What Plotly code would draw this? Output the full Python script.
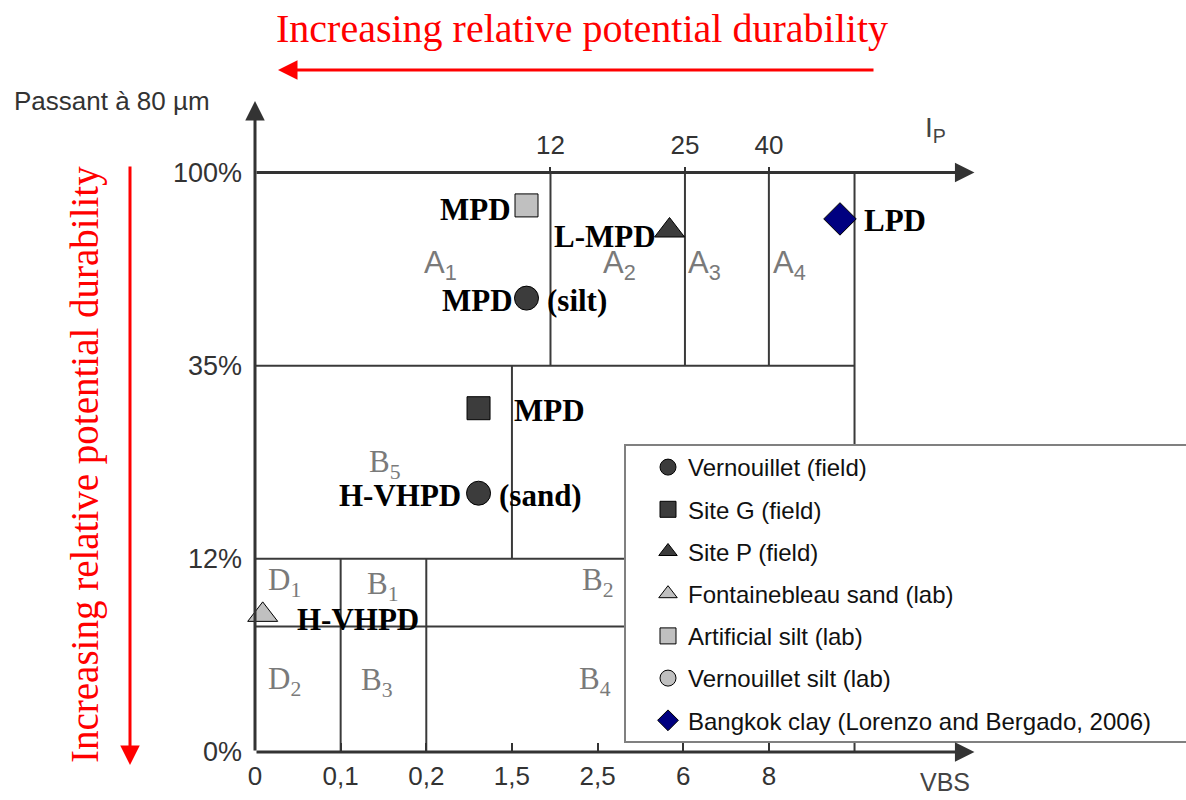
import plotly.graph_objects as go

# ---------------- data (schematic GTR chart, index coordinates) ----------------
vbs_labels = ["0", "0,1", "0,2", "1,5", "2,5", "6", "8"]
vbs_index = [0, 1, 2, 3, 4, 5, 6]
fines_labels = ["0%", "12%", "35%", "100%"]
fines_index = [0, 1, 2, 3]
ip_labels = ["12", "25", "40"]
ip_index = [3.45, 5.02, 6.0]

series_names = [
    "Vernouillet (field)",
    "Site G (field)",
    "Site P (field)",
    "Fontainebleau sand (lab)",
    "Artificial silt (lab)",
    "Vernouillet silt (lab)",
    "Bangkok clay (Lorenzo and Bergado, 2006)",
]
vern_field_x = [2.61, 3.17]
vern_field_y = [1.34, 2.35]
site_g_x = [2.61]
site_g_y = [1.78]
site_p_x = [4.84]
site_p_y = [2.70]
fontainebleau_x = [0.09]
fontainebleau_y = [0.71]
art_silt_x = [3.17]
art_silt_y = [2.83]
vern_silt_x = []
vern_silt_y = []
bangkok_x = [6.83]
bangkok_y = [2.76]

# point labels: (series index, point index, text, side)
point_labels = [
    (0, 0, "H-VHPD", "left"), (0, 0, "(sand)", "right"),
    (0, 1, "MPD", "left"), (0, 1, "(silt)", "right"),
    (1, 0, "MPD", "right"),
    (2, 0, "L-MPD", "left"),
    (3, 0, "H-VHPD", "right"),
    (4, 0, "MPD", "left"),
    (6, 0, "LPD", "right"),
]
label_gaps = [16, 18, 12, 18, 33, 12, 32, 14, 22]
label_dy = [-2, -2, -2, -2, -2, -6, -5, -4, -2]

# zone boundaries (index coordinates)
h_segments = [(2, 0, 7), (1, 0, 7), (0.65, 0, 7)]
v_segments = [(3.45, 2, 3), (5.02, 2, 3), (6.0, 2, 3), (7, 0, 3), (3, 1, 2), (1, 0, 1), (2, 0, 1)]
zone_names = ["A<sub>1</sub>", "A<sub>2</sub>", "A<sub>3</sub>", "A<sub>4</sub>", "B<sub>5</sub>",
              "D<sub>1</sub>", "B<sub>1</sub>", "B<sub>2</sub>", "D<sub>2</sub>", "B<sub>3</sub>", "B<sub>4</sub>"]
zone_pos = [(2.16, 2.52), (4.26, 2.52), (5.25, 2.52), (6.24, 2.52), (1.52, 1.49),
            (0.35, 0.88), (1.50, 0.86), (4.0, 0.88), (0.35, 0.37), (1.43, 0.36), (3.97, 0.37)]

# ---------------- figure ----------------
W, H = 1186, 800
L, R, T, B = 255, 203, 76, 48
PW, PH = W - L - R, H - T - B


def paper(px, py):
    return (px - L) / PW, (H - B - py) / PH


DARK = "#3c3c3c"
LIGHT = "#c0c0c0"
NAVY = "#000080"
LINE = "#3a3a3a"
SANS = "Arial, Liberation Sans, sans-serif"
SERIF = "Liberation Serif, Times New Roman, serif"
NARROW = "Liberation Sans Narrow, Arial Narrow, Arial, sans-serif"

fig = go.Figure()

series = [
    (vern_field_x, vern_field_y, "circle", DARK, 24),
    (site_g_x, site_g_y, "square", DARK, 23),
    (site_p_x, site_p_y, "triangle-up", DARK, 26),
    (fontainebleau_x, fontainebleau_y, "triangle-up", LIGHT, 26),
    (art_silt_x, art_silt_y, "square", LIGHT, 23),
    (vern_silt_x, vern_silt_y, "circle", LIGHT, 24),
    (bangkok_x, bangkok_y, "diamond", NAVY, 25),
]
for i, (xs, ys, sym, col, sz) in enumerate(series):
    fig.add_trace(go.Scatter(
        x=xs if len(xs) else [None], y=ys if len(ys) else [None],
        mode="markers", name=series_names[i], legendgroup=f"g{i}",
        marker=dict(symbol=sym, color=col, size=sz, line=dict(color="black", width=1)),
        cliponaxis=False, hoverinfo="name",
    ))

# invisible trace for the top (Ip) axis
fig.add_trace(go.Scatter(x=[None], y=[None], xaxis="x2", showlegend=False, hoverinfo="skip"))

shapes = []
for (y, x0, x1) in h_segments:
    shapes.append(dict(type="line", xref="x", yref="y", x0=x0, x1=x1, y0=y, y1=y,
                       line=dict(color=LINE, width=2), layer="below"))
for (x, y0, y1) in v_segments:
    shapes.append(dict(type="line", xref="x", yref="y", x0=x, x1=x, y0=y0, y1=y1,
                       line=dict(color=LINE, width=2), layer="below"))

# legend box
lx0, ly0 = paper(625, 742)
lx1, ly1 = paper(1192, 445)
shapes.append(dict(type="rect", xref="paper", yref="paper", x0=lx0, x1=lx1, y0=ly0, y1=ly1,
                   fillcolor="white", line=dict(color="#808080", width=2), layer="above"))

annotations = []
# axis arrows
for (hx, hy, tx, ty) in [(0, 3.37, 0, 0), (8.4, 3, 0, 3), (8.4, 0, 0, 0)]:
    annotations.append(dict(x=hx, y=hy, ax=tx, ay=ty, xref="x", yref="y", axref="x", ayref="y",
                            text="", showarrow=True, arrowhead=2, arrowsize=1.3, arrowwidth=3,
                            arrowcolor="#333", standoff=0, startstandoff=0))

# zone labels
for name, (zx, zy) in zip(zone_names, zone_pos):
    fam = SANS if name.startswith("A") else SERIF
    annotations.append(dict(x=zx, y=zy, xref="x", yref="y", text=name, showarrow=False,
                            xanchor="center", yanchor="middle",
                            font=dict(family=fam, size=31, color="#7a7a7a")))

# point labels
series_xy = [(s[0], s[1]) for s in series]
for k, (si, pi, txt, side) in enumerate(point_labels):
    xs, ys = series_xy[si]
    g = label_gaps[k]
    annotations.append(dict(x=xs[pi], y=ys[pi], xref="x", yref="y", text=txt, showarrow=False,
                            xanchor="right" if side == "left" else "left", yanchor="middle",
                            xshift=-g if side == "left" else g, yshift=label_dy[k],
                            font=dict(family=SERIF, size=31, color="black", weight="bold")))


def text_at(px, py, txt, font, xanchor="center", angle=0):
    x, y = paper(px, py)
    annotations.append(dict(x=x, y=y, xref="paper", yref="paper", text=txt, showarrow=False,
                            xanchor=xanchor, yanchor="middle", textangle=angle, font=font))


text_at(12, 101, "Passant à 80 µm", dict(family=SANS, size=26, color="#333"), xanchor="left")
text_at(935, 130, "I<sub>P</sub>", dict(family=NARROW, size=28, color="#444"))
text_at(945, 782, "VBS", dict(family=NARROW, size=25, color="#444"))

# red durability annotations
RED = "#ff0000"
text_at(582, 28, "Increasing relative potential durability", dict(family=SERIF, size=40, color=RED))
text_at(85, 465, "Increasing relative potential durability", dict(family=SERIF, size=39, color=RED), angle=-90)
hx, hy = paper(278, 70)
annotations.append(dict(x=hx, y=hy, xref="paper", yref="paper", ax=875 - 278, ay=0, axref="pixel", ayref="pixel",
                        text="", showarrow=True, arrowhead=2, arrowsize=1.3, arrowwidth=3, arrowcolor=RED,
                        standoff=0))
hx, hy = paper(130, 765)
annotations.append(dict(x=hx, y=hy, xref="paper", yref="paper", ax=0, ay=-(765 - 165), axref="pixel", ayref="pixel",
                        text="", showarrow=True, arrowhead=2, arrowsize=1.3, arrowwidth=3, arrowcolor=RED,
                        standoff=0))

fig.update_layout(
    width=W, height=H,
    margin=dict(l=L, r=R, t=T, b=B, pad=0, autoexpand=False),
    paper_bgcolor="white", plot_bgcolor="white",
    xaxis=dict(range=[0, 8.5], tickvals=vbs_index, ticktext=vbs_labels, showgrid=False, zeroline=False,
               showline=False, ticks="inside", ticklen=9, tickwidth=2, tickcolor="#333",
               tickfont=dict(family=NARROW, size=26, color="#333"), ticklabelstandoff=6, fixedrange=True,
               automargin=False),
    xaxis2=dict(range=[0, 8.5], overlaying="x", matches="x", anchor="free", position=3 / 3.5, side="top",
                tickvals=ip_index, ticktext=ip_labels, showgrid=False, zeroline=False, showline=False,
                ticks="outside", ticklen=6, tickwidth=2, tickcolor="#333", automargin=False,
                tickfont=dict(family=NARROW, size=26, color="#333"), ticklabelstandoff=2),
    yaxis=dict(range=[0, 3.5], tickvals=fines_index, ticktext=fines_labels, showgrid=False, zeroline=False,
               showline=False, ticks="", tickfont=dict(family=SANS, size=27, color="#333"),
               ticklabelstandoff=12, fixedrange=True, automargin=False),
    showlegend=True,
    legend=dict(x=lx0, y=ly1, xanchor="left", yanchor="top", bgcolor="rgba(0,0,0,0)", borderwidth=0,
                font=dict(family=SANS, size=24, color="#111"),
                traceorder="grouped", tracegroupgap=8, indentation=23, itemsizing="trace"),
    shapes=shapes,
    annotations=annotations,
)

fig.write_html("out.html", config={"displayModeBar": False},
               post_script="document.body.style.margin='0';document.body.style.padding='0';")
